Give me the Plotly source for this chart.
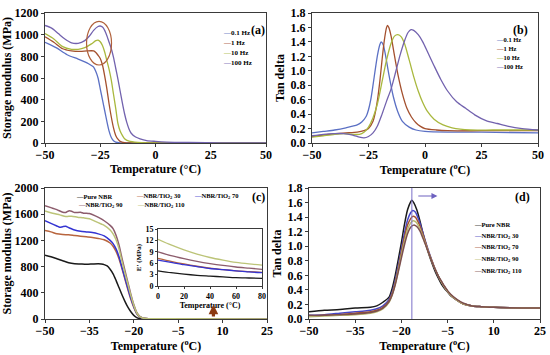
import plotly.graph_objects as go

# ---------------- Panel (a): storage modulus vs T at frequencies ----------------
freq_names = ["0.1 Hz", "1 Hz", "10 Hz", "100 Hz"]
freq_colors = ["#5B70C4", "#A4502E", "#A9B83E", "#7262AE"]

a_T_01 = [-50, -45, -40, -35, -31, -29, -28, -27, -26, -25, -24, -23, -22, -21, -20, -19, -18, -16, -10, 50]
a_E_01 = [930, 880, 815, 775, 740, 715, 700, 660, 600, 500, 400, 300, 200, 110, 50, 20, 8, 2, 0, 0]
a_T_1 = [-50, -46, -42, -38, -34, -31, -28, -27, -26, -25, -24, -23, -22, -21, -20, -19, -18, -17, -16, -14, -5, 50]
a_E_1 = [980, 930, 870, 850, 845, 850, 850, 835, 810, 780, 720, 620, 500, 360, 240, 140, 70, 35, 15, 3, 0, 0]
a_T_10 = [-50, -46, -42, -38, -35, -32, -29, -27, -26, -25, -24, -23, -22, -21, -20, -19, -18, -17, -16, -15, -14, -12, -8, -4, 10, 50]
a_E_10 = [1010, 960, 890, 865, 865, 880, 915, 945, 950, 935, 900, 840, 760, 680, 580, 450, 320, 180, 110, 70, 40, 18, 6, 2, 0, 0]
a_T_100 = [-50, -47, -44, -41, -38, -35, -32, -30, -28, -26, -25, -24, -23, -22, -21, -20, -19, -18, -17, -16, -15, -14, -13, -12, -11, -9, -7, -4, 0, 5, 15, 30, 50]
a_E_100 = [1085, 1060, 1010, 960, 925, 920, 945, 985, 1040, 1075, 1080, 1070, 1040, 990, 930, 870, 790, 690, 590, 480, 370, 270, 190, 130, 90, 55, 38, 22, 15, 9, 5, 2, 0]

# ---------------- Panel (b): tan delta vs T at frequencies ----------------
b_T_01 = [-50, -45, -40, -35, -30, -28, -26, -25, -24, -23, -22, -21, -20, -19.4, -18.5, -17.5, -16, -14, -12, -10, -7, -4, 0, 10, 25, 50]
b_D_01 = [0.14, 0.16, 0.18, 0.21, 0.25, 0.29, 0.37, 0.46, 0.60, 0.80, 1.02, 1.22, 1.36, 1.40, 1.36, 1.22, 0.95, 0.64, 0.43, 0.30, 0.22, 0.18, 0.16, 0.15, 0.15, 0.14]
b_T_1 = [-50, -45, -40, -35, -30, -27, -25, -23, -22, -21, -20, -19, -18, -17, -16.6, -16, -15, -14, -13, -12, -10, -8, -6, -4, -2, 0, 5, 10, 25, 50]
b_D_1 = [0.09, 0.11, 0.13, 0.14, 0.15, 0.17, 0.20, 0.30, 0.42, 0.60, 0.85, 1.15, 1.42, 1.60, 1.63, 1.60, 1.48, 1.30, 1.12, 0.95, 0.68, 0.48, 0.36, 0.28, 0.23, 0.20, 0.18, 0.17, 0.17, 0.17]
b_T_10 = [-50, -45, -40, -36, -32, -29, -27, -25, -23, -21, -19, -17, -15, -13.5, -12, -10.5, -9, -7, -5, -3, -1, 1, 4, 8, 12, 20, 30, 50]
b_D_10 = [0.08, 0.10, 0.12, 0.13, 0.12, 0.12, 0.15, 0.22, 0.35, 0.55, 0.85, 1.15, 1.38, 1.48, 1.50, 1.47, 1.37, 1.15, 0.92, 0.72, 0.56, 0.44, 0.33, 0.25, 0.21, 0.18, 0.18, 0.18]
b_T_100 = [-50, -45, -40, -36, -32, -29, -27, -25, -23, -21, -19, -17, -15, -13, -11, -9, -7.5, -6.2, -5, -3, -1, 1, 4, 7, 10, 14, 18, 22, 27, 32, 37, 43, 50]
b_D_100 = [0.10, 0.12, 0.13, 0.13, 0.11, 0.08, 0.07, 0.09, 0.14, 0.24, 0.40, 0.58, 0.75, 0.98, 1.22, 1.42, 1.53, 1.57, 1.56, 1.50, 1.40, 1.27, 1.07, 0.88, 0.72, 0.57, 0.48, 0.39, 0.31, 0.27, 0.23, 0.20, 0.18]

# ---------------- Panel (c): storage modulus of composites ----------------
comp_names = ["Pure NBR", "NBR/TiO<sub>2</sub> 30", "NBR/TiO<sub>2</sub> 70", "NBR/TiO<sub>2</sub> 90", "NBR/TiO<sub>2</sub> 110"]
c_colors = ["#1A1A1A", "#B8653E", "#3434D2", "#8C5C6C", "#BCC478"]

c_T_pure = [-50, -48, -46, -44, -42, -40, -38, -36, -34, -32, -31, -30, -29, -28, -27, -26, -25, -24, -23, -22, -21, -20, -19, -18, -16, -10, 25]
c_E_pure = [975, 950, 920, 890, 860, 845, 840, 835, 840, 845, 840, 830, 810, 760, 690, 590, 480, 370, 270, 180, 110, 55, 22, 8, 2, 0, 0]
c_T_30 = [-50, -48, -46, -44, -42, -40, -38, -36, -34, -32, -30, -28, -27, -26, -25, -24, -23, -22, -21, -20, -19, -18, -17, -15, -10, 25]
c_E_30 = [1350, 1330, 1300, 1290, 1285, 1275, 1265, 1255, 1245, 1230, 1210, 1160, 1110, 1030, 920, 770, 610, 450, 300, 175, 80, 32, 12, 4, 1, 0]
c_T_70 = [-50, -48, -46, -45, -44, -43, -42, -40, -38, -36, -34, -32, -30, -28, -27, -26, -25, -24, -23, -22, -21, -20, -19, -18, -17, -15, -10, 25]
c_E_70 = [1500, 1460, 1420, 1400, 1410, 1415, 1395, 1360, 1340, 1330, 1320, 1300, 1270, 1200, 1150, 1070, 950, 790, 630, 470, 320, 190, 85, 35, 13, 4, 1, 0]
c_T_90 = [-50, -48, -46, -44, -43, -42, -41, -40, -38, -37, -36, -35, -33, -31, -30, -28, -27, -26, -25, -24, -23, -22, -21, -20, -19, -18, -17, -15, -10, 25]
c_E_90 = [1730, 1700, 1670, 1630, 1625, 1650, 1645, 1625, 1630, 1615, 1615, 1610, 1575, 1530, 1500, 1430, 1380, 1280, 1130, 930, 740, 560, 380, 220, 100, 40, 15, 5, 2, 0]
c_T_110 = [-50, -47, -45, -43, -41, -39, -37, -35, -33, -31, -30, -28, -27, -26, -25, -24, -23, -22, -21, -20, -19, -18, -17, -15, -10, 25]
c_E_110 = [1650, 1610, 1590, 1565, 1570, 1555, 1545, 1530, 1490, 1450, 1430, 1360, 1300, 1210, 1070, 880, 700, 530, 360, 210, 95, 38, 14, 5, 2, 1]

# inset: E' at 0-80 C
ins_T = [0, 10, 20, 30, 40, 50, 60, 70, 80]
ins_pure = [4.0, 3.5, 3.1, 2.8, 2.6, 2.4, 2.2, 2.1, 2.0]
ins_30 = [7.3, 6.5, 5.8, 5.2, 4.7, 4.3, 4.0, 3.8, 3.6]
ins_70 = [6.8, 6.2, 5.6, 5.1, 4.6, 4.3, 4.0, 3.7, 3.5]
ins_90 = [9.0, 8.0, 7.2, 6.5, 5.9, 5.4, 5.0, 4.7, 4.4]
ins_110 = [12.3, 10.8, 9.5, 8.4, 7.5, 6.8, 6.2, 5.8, 5.5]

# ---------------- Panel (d): tan delta of composites ----------------
d_colors = ["#1A1A1A", "#4646C6", "#A4532F", "#BABA72", "#7C4E4E"]
d_T_pure = [-50, -45, -40, -35, -30, -28, -26, -24, -23, -22, -21, -20, -19, -18, -17, -16.6, -16, -15, -14, -13, -12, -11, -10, -9, -8, -7, -6, -5, -4, -2, 0, 3, 6, 10, 25]
d_D_pure = [0.10, 0.12, 0.13, 0.15, 0.16, 0.18, 0.23, 0.30, 0.42, 0.60, 0.82, 1.05, 1.30, 1.50, 1.61, 1.63, 1.60, 1.50, 1.35, 1.18, 1.02, 0.88, 0.76, 0.65, 0.56, 0.48, 0.42, 0.37, 0.32, 0.26, 0.21, 0.18, 0.17, 0.16, 0.15]
d_T_30 = [-50, -45, -40, -35, -32, -30, -28, -26, -24, -23, -22, -21, -20, -19, -18, -17, -16.3, -15.5, -15, -14, -13, -12, -11, -10, -9, -8, -7, -6, -5, -4, -2, 0, 3, 6, 10, 25]
d_D_30 = [0.05, 0.06, 0.08, 0.10, 0.11, 0.12, 0.14, 0.18, 0.27, 0.37, 0.53, 0.74, 0.96, 1.18, 1.36, 1.46, 1.49, 1.47, 1.43, 1.32, 1.18, 1.04, 0.91, 0.79, 0.68, 0.59, 0.51, 0.44, 0.38, 0.33, 0.26, 0.21, 0.18, 0.17, 0.16, 0.15]
d_T_70 = [-50, -45, -40, -35, -30, -28, -26, -24, -23, -22, -21, -20, -19, -18, -17, -16.3, -15.5, -15, -14, -13, -12, -11, -10, -9, -8, -7, -6, -5, -4, -2, 0, 3, 6, 10, 25]
d_D_70 = [0.04, 0.05, 0.06, 0.08, 0.10, 0.12, 0.16, 0.25, 0.35, 0.50, 0.70, 0.92, 1.12, 1.29, 1.38, 1.41, 1.40, 1.37, 1.28, 1.16, 1.03, 0.90, 0.79, 0.68, 0.59, 0.51, 0.44, 0.38, 0.33, 0.26, 0.21, 0.18, 0.17, 0.16, 0.15]
d_T_90 = [-50, -45, -40, -35, -30, -28, -26, -24, -23, -22, -21, -20, -19, -18, -17, -16.2, -15.5, -15, -14, -13, -12, -11, -10, -9, -8, -7, -6, -5, -4, -2, 0, 3, 6, 10, 25]
d_D_90 = [0.03, 0.04, 0.05, 0.06, 0.08, 0.10, 0.14, 0.23, 0.33, 0.48, 0.67, 0.88, 1.07, 1.23, 1.32, 1.35, 1.34, 1.32, 1.24, 1.13, 1.01, 0.89, 0.78, 0.68, 0.59, 0.51, 0.44, 0.38, 0.33, 0.26, 0.21, 0.18, 0.17, 0.16, 0.15]
d_T_110 = [-50, -45, -40, -35, -30, -28, -26, -24, -23, -22, -21, -20, -19, -18, -17, -16, -15.3, -15, -14, -13, -12, -11, -10, -9, -8, -7, -6, -5, -4, -2, 0, 3, 6, 10, 25]
d_D_110 = [0.05, 0.05, 0.06, 0.07, 0.09, 0.11, 0.15, 0.24, 0.33, 0.47, 0.65, 0.84, 1.02, 1.17, 1.26, 1.29, 1.28, 1.27, 1.21, 1.11, 1.00, 0.89, 0.78, 0.68, 0.59, 0.52, 0.45, 0.39, 0.34, 0.27, 0.22, 0.18, 0.17, 0.16, 0.15]

W, H = 550, 355
FONT = "Liberation Serif, Times New Roman, serif"


def px_x(p):
    return p / W


def px_y(p):
    return 1 - p / H


fig = go.Figure()


def add_line(x, y, color, name, xa, ya, width=1.3):
    fig.add_trace(go.Scatter(x=x, y=y, mode="lines", name=name, showlegend=False,
                             line=dict(color=color, width=width, shape="spline", smoothing=0.7),
                             xaxis=xa, yaxis=ya, hoverinfo="x+y+name"))


for T, E, c, n in zip([a_T_01, a_T_1, a_T_10, a_T_100], [a_E_01, a_E_1, a_E_10, a_E_100], freq_colors, freq_names):
    add_line(T, E, c, n, "x", "y")
for T, D, c, n in zip([b_T_01, b_T_1, b_T_10, b_T_100], [b_D_01, b_D_1, b_D_10, b_D_100], freq_colors, freq_names):
    add_line(T, D, c, n, "x2", "y2")
for T, E, c, n in zip([c_T_pure, c_T_30, c_T_70, c_T_90, c_T_110], [c_E_pure, c_E_30, c_E_70, c_E_90, c_E_110], c_colors, comp_names):
    add_line(T, E, c, n, "x3", "y3", 1.5)
for E, c, n in zip([ins_pure, ins_30, ins_70, ins_90, ins_110], c_colors, comp_names):
    add_line(ins_T, E, c, n, "x5", "y5", 1.3)
for T, D, c, n in zip([d_T_pure, d_T_30, d_T_70, d_T_90, d_T_110], [d_D_pure, d_D_30, d_D_70, d_D_90, d_D_110], d_colors, comp_names):
    add_line(T, D, c, n, "x4", "y4", 1.5)

axis_common = dict(showline=True, linecolor="#3a3a3a", linewidth=1, mirror=True, ticks="outside",
                   ticklen=3, tickcolor="#3a3a3a", showgrid=False, zeroline=False, automargin=False,
                   tickfont=dict(family=FONT, size=12, color="black", weight="bold"))
title_font = dict(family=FONT, size=12, color="black", weight="bold")


def xax(domain, rng, dtick, anchor, title, standoff=0):
    d = dict(axis_common)
    d.update(domain=domain, range=rng, dtick=dtick, tick0=rng[0], anchor=anchor, ticklabelstandoff=-2,
             title=dict(text=title, font=title_font, standoff=standoff))
    return d


def yax(domain, rng, dtick, anchor, title, fmt=None, standoff=3):
    d = dict(axis_common)
    d.update(domain=domain, range=rng, dtick=dtick, tick0=0, anchor=anchor,
             title=dict(text=title, font=title_font, standoff=standoff))
    if fmt:
        d["tickformat"] = fmt
    return d


top = [px_y(143), px_y(13)]
bot = [px_y(319), px_y(188)]

layout = dict(
    width=W, height=H, margin=dict(l=0, r=0, t=0, b=0, autoexpand=False),
    plot_bgcolor="white", paper_bgcolor="white", showlegend=False,
    xaxis=xax([px_x(45), px_x(266)], [-50, 50], 25, "y", "Temperature (°C)"),
    yaxis=yax(top, [0, 1200], 200, "x", "Storage modulus (MPa)"),
    xaxis2=xax([px_x(312), px_x(538)], [-50, 50], 25, "y2", "Temperature (<sup>o</sup>C)"),
    yaxis2=yax(top, [0, 1.8], 0.2, "x2", "Tan delta", ".1f"),
    xaxis3=xax([px_x(45), px_x(267)], [-50, 25], 15, "y3", "Temperature (<sup>o</sup>C)"),
    yaxis3=yax(bot, [0, 2000], 400, "x3", "Storage modulus (MPa)"),
    xaxis4=xax([px_x(309), px_x(540)], [-50, 25], 15, "y4", "Temperature (<sup>o</sup>C)"),
    yaxis4=yax(bot, [0, 1.8], 0.2, "x4", "Tan delta", ".1f"),
)
ins_font = dict(family=FONT, size=8, color="black", weight="bold")
ix = dict(axis_common)
ix.update(domain=[px_x(158), px_x(262)], range=[0, 80], dtick=20, anchor="y5", ticklen=2,
          tickfont=ins_font, title=dict(text="Temperature (°C)", font=dict(family=FONT, size=8, color="black", weight="bold"), standoff=0))
iy = dict(axis_common)
iy.update(domain=[px_y(286), px_y(229)], range=[0, 15], dtick=3, anchor="x5", ticklen=2,
          tickfont=ins_font, title=dict(text="E' (MPa)", font=dict(family=FONT, size=7, color="black", weight="bold"), standoff=2))
layout["xaxis5"] = ix
layout["yaxis5"] = iy
fig.update_layout(**layout)

annotations = []
# panel labels
for lab, x, y in [("(a)", 258, 21), ("(b)", 530, 21), ("(c)", 258, 197), ("(d)", 532, 197)]:
    annotations.append(dict(text=lab, x=px_x(x), y=px_y(y), xref="paper", yref="paper", showarrow=False,
                            font=dict(family=FONT, size=12, color="black", weight="bold")))

leg_font = dict(family=FONT, size=7, color="black", weight="bold")


def legend_item(name, color, x, y, size=7):
    f = dict(leg_font)
    f["size"] = size
    annotations.append(dict(text='<span style="color:%s">—</span>%s' % (color, name), x=px_x(x), y=px_y(y),
                            xref="paper", yref="paper", xanchor="left", yanchor="middle",
                            showarrow=False, font=f))


for i, (n, c) in enumerate(zip(freq_names, freq_colors)):
    legend_item(n, c, 221, 32.7 + 10 * i)
for i, (n, c) in enumerate(zip(freq_names, freq_colors)):
    legend_item(n, c, 494, 40 + 8.7 * i, 6.5)
c_pos = [(74, 196), (134, 196), (192, 196), (76, 205), (135, 205)]
for (n, c), (x, y) in zip(zip(comp_names, c_colors), c_pos):
    legend_item(n, c, x, y, 6.5)
for i, (n, c) in enumerate(zip(comp_names, d_colors)):
    legend_item(n, c, 472, 224 + 11.7 * i, 6.5)

# arrows
annotations.append(dict(x=6.9, y=220, ax=6.9, ay=15, xref="x3", yref="y3", axref="x3", ayref="y3",
                        showarrow=True, arrowhead=2, arrowsize=0.6, arrowwidth=3.2, arrowcolor="#8B3A12", text=""))
annotations.append(dict(x=-8.3, y=1.69, ax=-15, ay=1.69, xref="x4", yref="y4", axref="x4", ayref="y4",
                        showarrow=True, arrowhead=2, arrowsize=1, arrowwidth=1.2, arrowcolor="#6E62C0", text=""))
fig.update_layout(annotations=annotations)

fig.add_shape(type="circle", xref="x", yref="y", x0=-31.2, x1=-19.9, y0=720, y1=1123,
              line=dict(color="#B0603A", width=1.2))
fig.add_shape(type="line", xref="x4", yref="y4", x0=-16.6, x1=-16.6, y0=0, y1=1.8,
              line=dict(color="#7B6FC8", width=1))

fig.write_html("out.html", config={"displayModeBar": False},
               post_script="document.body.style.margin='0px';")
